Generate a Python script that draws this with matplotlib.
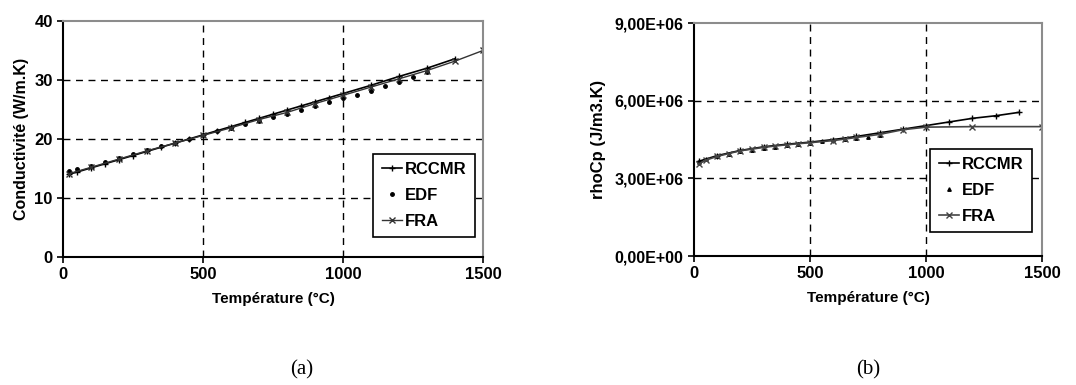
import matplotlib.pyplot as plt
from matplotlib.ticker import FixedLocator

# (a) conductivité
k_rccmr_T = [20, 50, 100, 150, 200, 250, 300, 350, 400, 450, 500, 550, 600, 650, 700,
             750, 800, 850, 900, 950, 1000, 1100, 1200, 1300, 1400]
k_rccmr = [14.0, 14.4, 15.1, 15.8, 16.5, 17.2, 17.9, 18.6, 19.3, 20.0, 20.7, 21.4, 22.1,
           22.8, 23.5, 24.2, 24.9, 25.6, 26.3, 27.0, 27.7, 29.1, 30.6, 32.0, 33.6]
k_edf_T = [20, 50, 100, 150, 200, 250, 300, 350, 400, 450, 500, 550, 600, 650, 700,
           750, 800, 850, 900, 950, 1000, 1050, 1100, 1150, 1200, 1250, 1300]
k_edf = [14.5, 14.9, 15.5, 16.1, 16.8, 17.4, 18.1, 18.8, 19.4, 20.0, 20.6, 21.3, 21.9,
         22.5, 23.1, 23.7, 24.3, 24.9, 25.6, 26.2, 26.9, 27.5, 28.2, 28.9, 29.6, 30.5, 31.4]
k_fra_T = [20, 100, 200, 300, 400, 500, 600, 700, 800, 900, 1000, 1100, 1200, 1300, 1400, 1500]
k_fra = [14.1, 15.2, 16.6, 18.0, 19.3, 20.6, 21.9, 23.3, 24.5, 26.0, 27.4, 28.8, 30.2,
         31.6, 33.2, 35.0]

# (b) rhoCp
c_rccmr_T = [20, 100, 200, 300, 400, 500, 600, 700, 800, 900, 1000, 1100, 1200, 1300, 1400]
c_rccmr = [3.66e6, 3.88e6, 4.08e6, 4.22e6, 4.32e6, 4.40e6, 4.50e6, 4.62e6, 4.76e6, 4.90e6,
           5.04e6, 5.18e6, 5.32e6, 5.42e6, 5.55e6]
c_edf_T = [20, 50, 100, 150, 200, 250, 300, 350, 400, 450, 500, 550, 600, 650, 700, 750, 800]
c_edf = [3.62e6, 3.74e6, 3.86e6, 3.96e6, 4.04e6, 4.11e6, 4.17e6, 4.23e6, 4.28e6, 4.33e6,
         4.38e6, 4.43e6, 4.47e6, 4.52e6, 4.56e6, 4.61e6, 4.66e6]
c_fra_T = [20, 50, 100, 150, 200, 250, 300, 350, 400, 450, 500, 600, 650, 700, 800, 900,
           1000, 1200, 1500]
c_fra = [3.56e6, 3.70e6, 3.85e6, 3.96e6, 4.07e6, 4.13e6, 4.20e6, 4.25e6, 4.30e6, 4.34e6,
         4.38e6, 4.46e6, 4.52e6, 4.58e6, 4.70e6, 4.88e6, 4.98e6, 5.00e6, 5.00e6]

x_ticks = [0, 500, 1000, 1500]
k_ticks = [0, 10, 20, 30, 40]
c_ticks = [0, 3e6, 6e6, 9e6]
c_tick_labels = ['0,00E+00', '3,00E+06', '6,00E+06', '9,00E+06']


def style_axes(ax, yticks, ymax, ysize):
    ax.set_xlim(0, 1500)
    ax.set_ylim(0, ymax)
    ax.xaxis.set_major_locator(FixedLocator(x_ticks))
    ax.yaxis.set_major_locator(FixedLocator(yticks))
    ax.grid(True, color='black', linestyle=(0, (5, 4)), linewidth=1.0)
    # no grid line on the frame itself
    for lines in (ax.get_xgridlines(), ax.get_ygridlines()):
        lines[0].set_visible(False)
        lines[-1].set_visible(False)
    for side in ['top', 'right']:
        ax.spines[side].set_color('#8c8c8c')
        ax.spines[side].set_linewidth(1.5)
    for side in ['left', 'bottom']:
        ax.spines[side].set_linewidth(1.5)
    ax.tick_params(direction='out', length=4, width=1.2)
    ax.tick_params(axis='x', labelsize=12)
    ax.tick_params(axis='y', labelsize=ysize)
    for lab in ax.get_xticklabels() + ax.get_yticklabels():
        lab.set_fontweight('bold')
    ax.set_xlabel('Température (°C)', fontsize=11, fontweight='bold', labelpad=7)


def make_legend(ax, anchor):
    leg = ax.legend(loc='lower right', bbox_to_anchor=anchor, borderaxespad=0,
                    prop={'weight': 'bold', 'size': 12}, fancybox=False, framealpha=1,
                    edgecolor='black', handlelength=1.2, handletextpad=0.2,
                    borderpad=0.5, labelspacing=0.65)
    leg.get_frame().set_linewidth(1.2)


def main():
    plt.rcParams['font.family'] = ['Liberation Sans', 'DejaVu Sans']
    fig = plt.figure(figsize=(10.76, 3.85), dpi=100)

    ax = fig.add_axes([0.0586, 0.3325, 0.3903, 0.613])
    ax.plot(k_rccmr_T, k_rccmr, color='black', lw=1.2, marker='+', ms=4, label='RCCMR')
    ax.plot(k_edf_T, k_edf, linestyle='none', color='black', marker='o', ms=2.5, label='EDF')
    ax.plot(k_fra_T, k_fra, color='#333333', lw=1.0, marker='x', ms=4, label='FRA')
    style_axes(ax, k_ticks, 40, 12)
    ax.set_ylabel('Conductivité (W/m.K)', fontsize=11.5, fontweight='bold', labelpad=4)
    make_legend(ax, (0.981, 0.085))

    ax2 = fig.add_axes([0.645, 0.335, 0.3234, 0.605])
    ax2.plot(c_rccmr_T, c_rccmr, color='black', lw=1.2, marker='+', ms=4, label='RCCMR')
    ax2.plot(c_edf_T, c_edf, linestyle='none', color='black', marker='^', ms=2.5, label='EDF')
    ax2.plot(c_fra_T, c_fra, color='#444444', lw=1.2, marker='x', ms=4, label='FRA')
    style_axes(ax2, c_ticks, 9e6, 11.5)
    ax2.set_yticklabels(c_tick_labels, fontweight='bold')
    ax2.set_ylabel('rhoCp (J/m3.K)', fontsize=12, fontweight='bold', labelpad=6)
    make_legend(ax2, (0.971, 0.103))

    fig.text(302 / 1076, 1 - 370 / 385, '(a)', family='Liberation Serif', fontsize=15,
             ha='center', va='center')
    fig.text(868 / 1076, 1 - 370 / 385, '(b)', family='Liberation Serif', fontsize=15,
             ha='center', va='center')

    fig.savefig('out.png', dpi=100, facecolor='white')


if __name__ == '__main__':
    main()
